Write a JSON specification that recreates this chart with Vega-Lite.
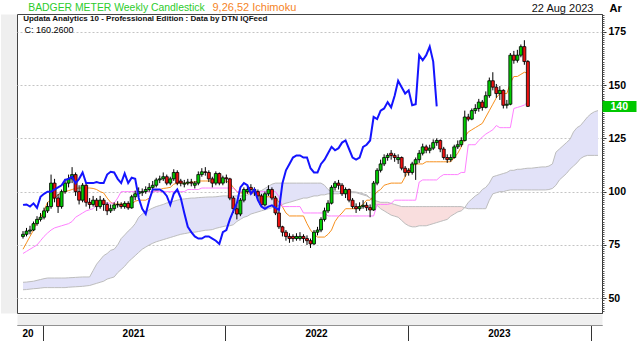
{
  "$schema": "https://vega.github.io/schema/vega-lite/v6.json",
  "width": 585,
  "height": 299,
  "autosize": {"type": "none"},
  "padding": {"left": 17, "top": 14, "right": 38, "bottom": 28},
  "background": "#ffffff",
  "config": {
    "font": "Liberation Sans",
    "view": {"stroke": "#444444", "strokeWidth": 1},
    "axis": {"labelFont": "Liberation Sans", "titleFont": "Liberation Sans"}
  },
  "datasets": {
    "w": [
      {"d":"2020-11-23","o":79,"h":81.5,"l":78,"c":80,"t":73,"k":71,"a":57.5,"b":54},
      {"d":"2020-11-30","o":80,"h":83,"l":79,"c":81.5,"t":76,"k":72,"a":57.6,"b":54.1},
      {"d":"2020-12-07","o":81.5,"h":84,"l":80,"c":82,"t":79,"k":73,"a":57.8,"b":54.3},
      {"d":"2020-12-14","o":82,"h":86,"l":81.5,"c":85,"t":82,"k":74,"a":58,"b":54.5},
      {"d":"2020-12-21","o":85,"h":88.5,"l":84,"c":87,"t":86,"k":75,"a":58.4,"b":54.6},
      {"d":"2020-12-28","o":87,"h":90,"l":86,"c":88,"t":88,"k":77,"a":58.8,"b":54.8},
      {"d":"2021-01-04","o":88,"h":92.5,"l":87,"c":91,"t":91,"k":79,"a":59.2,"b":55},
      {"d":"2021-01-11","o":91,"h":95,"l":90,"c":93,"t":95,"k":80.6,"a":59.5,"b":55},
      {"d":"2021-01-18","o":93,"h":108,"l":92,"c":104,"t":96,"k":82,"a":59.5,"b":55},
      {"d":"2021-01-25","o":104,"h":106,"l":95,"c":97,"t":97,"k":83,"a":59.5,"b":55},
      {"d":"2021-02-01","o":97,"h":99,"l":90,"c":93,"t":98.5,"k":83.5,"a":59.5,"b":55},
      {"d":"2021-02-08","o":93,"h":101,"l":92,"c":100,"t":99.5,"k":84,"a":59.5,"b":55},
      {"d":"2021-02-15","o":100,"h":106,"l":99,"c":104,"t":100,"k":84.5,"a":59.5,"b":55},
      {"d":"2021-02-22","o":104,"h":108,"l":102,"c":106,"t":100.5,"k":85,"a":59.6,"b":55.2},
      {"d":"2021-03-01","o":106,"h":111.5,"l":104,"c":108,"t":101,"k":86,"a":59.7,"b":55.3},
      {"d":"2021-03-08","o":108,"h":109,"l":98,"c":100,"t":101.5,"k":88,"a":59.8,"b":55.4},
      {"d":"2021-03-15","o":100,"h":103,"l":94,"c":96,"t":101.7,"k":89,"a":59.9,"b":55.5},
      {"d":"2021-03-22","o":96,"h":104,"l":95,"c":103,"t":101.7,"k":90,"a":60,"b":55.6},
      {"d":"2021-03-29","o":103,"h":104,"l":93,"c":95,"t":101.7,"k":91,"a":60,"b":55.8},
      {"d":"2021-04-05","o":95,"h":97,"l":92,"c":94,"t":101.7,"k":91.5,"a":60,"b":56},
      {"d":"2021-04-12","o":94,"h":98,"l":93,"c":96,"t":101.5,"k":92,"a":63,"b":56.5},
      {"d":"2021-04-19","o":96,"h":97,"l":91,"c":93,"t":101,"k":94,"a":66,"b":57},
      {"d":"2021-04-26","o":93,"h":98,"l":92,"c":96,"t":100,"k":94.6,"a":68,"b":57.5},
      {"d":"2021-05-03","o":96,"h":97,"l":91,"c":94,"t":99.4,"k":94.6,"a":70,"b":58},
      {"d":"2021-05-10","o":94,"h":95,"l":89,"c":91,"t":97,"k":94.6,"a":71,"b":59},
      {"d":"2021-05-17","o":91,"h":94,"l":90,"c":92,"t":95,"k":94.6,"a":72.5,"b":59.5},
      {"d":"2021-05-24","o":92,"h":95,"l":91,"c":93.8,"t":94.2,"k":94.6,"a":73,"b":60},
      {"d":"2021-05-31","o":93.8,"h":95.5,"l":92.5,"c":94,"t":94.2,"k":97,"a":75,"b":62},
      {"d":"2021-06-07","o":94,"h":95,"l":92,"c":93,"t":94.2,"k":100,"a":78,"b":63.5},
      {"d":"2021-06-14","o":93,"h":95.5,"l":92,"c":94.5,"t":94.2,"k":100,"a":79.7,"b":65},
      {"d":"2021-06-21","o":94.5,"h":95.5,"l":91.5,"c":92.4,"t":94.2,"k":100,"a":81.5,"b":67},
      {"d":"2021-06-28","o":92.4,"h":98.5,"l":92,"c":97.6,"t":94.2,"k":100,"a":83,"b":68.5},
      {"d":"2021-07-05","o":97.6,"h":100.5,"l":96,"c":99,"t":95.5,"k":100,"a":85,"b":70},
      {"d":"2021-07-12","o":99,"h":102,"l":97.5,"c":100,"t":96,"k":100,"a":88,"b":71.5},
      {"d":"2021-07-19","o":99.5,"h":101.5,"l":98,"c":100,"t":96,"k":100,"a":89.5,"b":73},
      {"d":"2021-07-26","o":100,"h":102.5,"l":99,"c":101,"t":96,"k":100,"a":90.5,"b":74},
      {"d":"2021-08-02","o":101,"h":104,"l":100,"c":102,"t":97,"k":100,"a":91.5,"b":75},
      {"d":"2021-08-09","o":102,"h":105,"l":101,"c":103,"t":100,"k":100,"a":92.3,"b":75.8},
      {"d":"2021-08-16","o":103,"h":106.5,"l":102,"c":105.5,"t":100.5,"k":100,"a":93,"b":76.5},
      {"d":"2021-08-23","o":105.5,"h":107.5,"l":104,"c":106,"t":101,"k":100,"a":93.5,"b":77},
      {"d":"2021-08-30","o":106,"h":109,"l":105,"c":107,"t":101.5,"k":100,"a":94,"b":77.5},
      {"d":"2021-09-06","o":107,"h":108,"l":103,"c":104,"t":101.7,"k":100,"a":94.7,"b":78},
      {"d":"2021-09-13","o":104,"h":107,"l":103,"c":106,"t":102,"k":100,"a":95,"b":78.5},
      {"d":"2021-09-20","o":106,"h":110.5,"l":105,"c":109,"t":103.5,"k":100,"a":95.5,"b":79},
      {"d":"2021-09-27","o":109,"h":110,"l":103,"c":104,"t":104,"k":100,"a":96,"b":79.5},
      {"d":"2021-10-04","o":105,"h":106,"l":102.5,"c":104,"t":104,"k":100,"a":96.4,"b":80},
      {"d":"2021-10-11","o":103.5,"h":105.5,"l":102,"c":104,"t":104,"k":100,"a":96.6,"b":80.3},
      {"d":"2021-10-18","o":104,"h":106,"l":103,"c":104.5,"t":104,"k":101,"a":96.8,"b":80.6},
      {"d":"2021-10-25","o":104.5,"h":106,"l":102.5,"c":104,"t":104.5,"k":101,"a":97,"b":81},
      {"d":"2021-11-01","o":103,"h":105,"l":101.5,"c":104,"t":104.5,"k":101,"a":97,"b":81},
      {"d":"2021-11-08","o":104,"h":109.5,"l":103,"c":108,"t":105,"k":101,"a":97.2,"b":81.3},
      {"d":"2021-11-15","o":108,"h":111,"l":107,"c":109.3,"t":105,"k":101.7,"a":97.3,"b":81.6},
      {"d":"2021-11-22","o":109.3,"h":111.5,"l":107.5,"c":109,"t":105,"k":101.7,"a":97.4,"b":81.9},
      {"d":"2021-11-29","o":109,"h":110,"l":104.5,"c":106,"t":105,"k":101.7,"a":97.5,"b":82},
      {"d":"2021-12-06","o":106,"h":107,"l":102,"c":104,"t":105,"k":101.7,"a":97.5,"b":82.2},
      {"d":"2021-12-13","o":104,"h":109.5,"l":103,"c":108.5,"t":105,"k":101.7,"a":97.6,"b":82.8},
      {"d":"2021-12-20","o":108.5,"h":109,"l":103,"c":104,"t":105,"k":101.7,"a":97.8,"b":83.2},
      {"d":"2021-12-27","o":104,"h":107.5,"l":103,"c":106.5,"t":105,"k":101.7,"a":98,"b":83.6},
      {"d":"2022-01-03","o":106.5,"h":108,"l":104,"c":106,"t":105,"k":101.7,"a":98,"b":84},
      {"d":"2022-01-10","o":106,"h":106.5,"l":96,"c":97,"t":104,"k":101.7,"a":98,"b":84},
      {"d":"2022-01-17","o":97,"h":98,"l":90,"c":92,"t":102,"k":101.7,"a":98,"b":84.5},
      {"d":"2022-01-24","o":92,"h":94,"l":87,"c":89.5,"t":100,"k":100,"a":98,"b":86},
      {"d":"2022-01-31","o":89.5,"h":97,"l":88.5,"c":96,"t":99.4,"k":100,"a":98,"b":87},
      {"d":"2022-02-07","o":96,"h":102,"l":95,"c":101,"t":99.4,"k":100,"a":98,"b":88},
      {"d":"2022-02-14","o":100,"h":103,"l":99,"c":101,"t":99.4,"k":100,"a":98.5,"b":88.5},
      {"d":"2022-02-21","o":102,"h":103.5,"l":99.5,"c":101,"t":99.4,"k":100,"a":99,"b":89.5},
      {"d":"2022-02-28","o":101,"h":102,"l":98,"c":100,"t":99.4,"k":100,"a":99.5,"b":90},
      {"d":"2022-03-07","o":100,"h":101,"l":96,"c":98,"t":99,"k":100,"a":100,"b":90.5},
      {"d":"2022-03-14","o":98,"h":99,"l":93,"c":93.8,"t":97.6,"k":100,"a":100.5,"b":91},
      {"d":"2022-03-21","o":93.8,"h":100,"l":93,"c":99,"t":97.6,"k":100,"a":101.5,"b":91.5},
      {"d":"2022-03-28","o":99,"h":103,"l":98,"c":101,"t":97.6,"k":100,"a":102.5,"b":92},
      {"d":"2022-04-04","o":101,"h":102,"l":96,"c":97,"t":97.6,"k":100,"a":103.5,"b":92.5},
      {"d":"2022-04-11","o":97,"h":98,"l":89,"c":90,"t":97.6,"k":100,"a":104,"b":93},
      {"d":"2022-04-18","o":90,"h":91,"l":82.5,"c":83.5,"t":95,"k":97.6,"a":104,"b":93.5},
      {"d":"2022-04-25","o":83.5,"h":84,"l":79,"c":81,"t":92.9,"k":93,"a":104,"b":94},
      {"d":"2022-05-02","o":81,"h":82,"l":77,"c":79,"t":90,"k":93,"a":104,"b":94.6},
      {"d":"2022-05-09","o":79,"h":80.5,"l":76,"c":78,"t":88.6,"k":93,"a":104,"b":95},
      {"d":"2022-05-16","o":79,"h":80,"l":76.5,"c":78,"t":88.6,"k":93,"a":104,"b":95.5},
      {"d":"2022-05-23","o":78,"h":80.5,"l":77,"c":79,"t":88.6,"k":93,"a":104,"b":96},
      {"d":"2022-05-30","o":78,"h":81,"l":77,"c":79,"t":88.6,"k":93,"a":104,"b":96.5},
      {"d":"2022-06-06","o":79,"h":80,"l":76,"c":78,"t":88.6,"k":90,"a":104,"b":97},
      {"d":"2022-06-13","o":78,"h":79.5,"l":75,"c":77,"t":85,"k":90,"a":104,"b":97},
      {"d":"2022-06-20","o":77,"h":78,"l":73.6,"c":75.5,"t":82,"k":90,"a":104,"b":97.5},
      {"d":"2022-06-27","o":75.5,"h":82,"l":75,"c":81,"t":80,"k":90,"a":104,"b":98},
      {"d":"2022-07-04","o":81,"h":83.5,"l":79.5,"c":82,"t":78.7,"k":90,"a":104,"b":98},
      {"d":"2022-07-11","o":82,"h":88,"l":81,"c":87,"t":78.7,"k":90,"a":104,"b":98.5},
      {"d":"2022-07-18","o":87,"h":92.5,"l":86,"c":91,"t":78.7,"k":90,"a":103,"b":98.5},
      {"d":"2022-07-25","o":91,"h":96,"l":90,"c":94.6,"t":80,"k":88.6,"a":101,"b":99},
      {"d":"2022-08-01","o":94.6,"h":103,"l":94,"c":102,"t":82,"k":88.6,"a":100,"b":99},
      {"d":"2022-08-08","o":102,"h":105,"l":100.5,"c":104,"t":86,"k":88.6,"a":100,"b":99},
      {"d":"2022-08-15","o":104,"h":105.5,"l":101,"c":103,"t":88.4,"k":88.6,"a":100,"b":99},
      {"d":"2022-08-22","o":103,"h":104,"l":98,"c":99,"t":90,"k":88.6,"a":100,"b":99.5},
      {"d":"2022-08-29","o":99,"h":102,"l":97,"c":101,"t":92,"k":88.6,"a":100,"b":99.5},
      {"d":"2022-09-05","o":101,"h":101.5,"l":95,"c":96,"t":92,"k":88.6,"a":100,"b":99.5},
      {"d":"2022-09-12","o":96,"h":97,"l":92,"c":93,"t":92,"k":88.6,"a":100,"b":99.5},
      {"d":"2022-09-19","o":93,"h":94.5,"l":90,"c":92,"t":92,"k":88.6,"a":99.8,"b":99.5},
      {"d":"2022-09-26","o":92,"h":95,"l":91,"c":93,"t":93,"k":88.6,"a":99.5,"b":99},
      {"d":"2022-10-03","o":93,"h":96,"l":92,"c":93.6,"t":94,"k":88.6,"a":99,"b":98.5},
      {"d":"2022-10-10","o":93.6,"h":95,"l":91,"c":92.5,"t":96,"k":88.6,"a":98.5,"b":98},
      {"d":"2022-10-17","o":92.5,"h":94,"l":88,"c":91.4,"t":96,"k":88.6,"a":97,"b":97},
      {"d":"2022-10-24","o":91.4,"h":105,"l":91,"c":104,"t":98,"k":88.6,"a":95,"b":96},
      {"d":"2022-10-31","o":104,"h":111,"l":103,"c":110,"t":100,"k":94,"a":93.5,"b":95.5},
      {"d":"2022-11-07","o":110,"h":115,"l":109,"c":113,"t":101,"k":94,"a":92,"b":95},
      {"d":"2022-11-14","o":113,"h":117.5,"l":112,"c":116,"t":103,"k":94,"a":91,"b":95},
      {"d":"2022-11-21","o":116,"h":118,"l":114.5,"c":117,"t":103.5,"k":94,"a":90,"b":95},
      {"d":"2022-11-28","o":118,"h":119.5,"l":115,"c":117,"t":104,"k":94.5,"a":89,"b":94.5},
      {"d":"2022-12-05","o":117,"h":118,"l":114,"c":116,"t":104,"k":96,"a":88.5,"b":94},
      {"d":"2022-12-12","o":115,"h":117.5,"l":113,"c":116,"t":104,"k":96,"a":88,"b":93.5},
      {"d":"2022-12-19","o":116,"h":116.5,"l":110,"c":111,"t":104,"k":96,"a":86.5,"b":93},
      {"d":"2022-12-26","o":111,"h":112,"l":107,"c":109,"t":107,"k":96,"a":85,"b":93},
      {"d":"2023-01-02","o":110,"h":111,"l":107.5,"c":109,"t":110,"k":96,"a":84,"b":93},
      {"d":"2023-01-09","o":109,"h":114,"l":108,"c":113,"t":112,"k":96,"a":83.5,"b":93},
      {"d":"2023-01-16","o":113,"h":116,"l":105.5,"c":115,"t":113,"k":96,"a":83.5,"b":93},
      {"d":"2023-01-23","o":115,"h":119.5,"l":113.5,"c":118,"t":113,"k":104.5,"a":84,"b":93},
      {"d":"2023-01-30","o":118,"h":122.5,"l":117,"c":121,"t":113,"k":105.5,"a":84,"b":93},
      {"d":"2023-02-06","o":121,"h":122,"l":118,"c":119.4,"t":114,"k":105.5,"a":84,"b":93},
      {"d":"2023-02-13","o":119.4,"h":122,"l":118,"c":120.4,"t":114,"k":105.5,"a":84.5,"b":93},
      {"d":"2023-02-20","o":120.4,"h":124.5,"l":119.5,"c":123,"t":114,"k":105.5,"a":85,"b":93},
      {"d":"2023-02-27","o":123,"h":125,"l":121.5,"c":124,"t":114,"k":105.5,"a":85.5,"b":93},
      {"d":"2023-03-06","o":124,"h":124.5,"l":118.5,"c":120,"t":114,"k":107,"a":86,"b":93},
      {"d":"2023-03-13","o":120,"h":121,"l":115,"c":116,"t":114,"k":108,"a":86.5,"b":93},
      {"d":"2023-03-20","o":116,"h":117.5,"l":113.5,"c":115,"t":114,"k":108,"a":87,"b":93},
      {"d":"2023-03-27","o":115,"h":117.5,"l":114,"c":116,"t":114,"k":108,"a":88.5,"b":93},
      {"d":"2023-04-03","o":116,"h":122,"l":115.5,"c":121,"t":116,"k":108,"a":89.5,"b":93},
      {"d":"2023-04-10","o":121,"h":124,"l":120,"c":122,"t":118,"k":108,"a":90.5,"b":93},
      {"d":"2023-04-17","o":122,"h":125.5,"l":121,"c":124,"t":121,"k":109,"a":91,"b":93},
      {"d":"2023-04-24","o":124,"h":138,"l":123.5,"c":135,"t":125.6,"k":109,"a":92.5,"b":92.5},
      {"d":"2023-05-01","o":135,"h":136.5,"l":133,"c":134,"t":128,"k":122,"a":95,"b":92},
      {"d":"2023-05-08","o":134,"h":139,"l":133.5,"c":138,"t":129,"k":122,"a":96.5,"b":92},
      {"d":"2023-05-15","o":138,"h":141,"l":136.5,"c":139,"t":130,"k":122,"a":98,"b":92},
      {"d":"2023-05-22","o":139,"h":143.5,"l":137.5,"c":142,"t":131,"k":124,"a":99,"b":92},
      {"d":"2023-05-29","o":142,"h":143,"l":138,"c":139.5,"t":132,"k":125.6,"a":101,"b":92},
      {"d":"2023-06-05","o":139.5,"h":147,"l":139,"c":145,"t":135,"k":127,"a":102,"b":92},
      {"d":"2023-06-12","o":145,"h":153.5,"l":144,"c":152,"t":138,"k":128,"a":104,"b":96},
      {"d":"2023-06-19","o":152,"h":156,"l":147.5,"c":149,"t":141,"k":129,"a":107,"b":99},
      {"d":"2023-06-26","o":149,"h":150.5,"l":144,"c":146,"t":144,"k":131,"a":107.5,"b":99.5},
      {"d":"2023-07-03","o":146,"h":149.5,"l":143,"c":147.5,"t":146,"k":130,"a":108,"b":100},
      {"d":"2023-07-10","o":147.5,"h":148,"l":139,"c":140.5,"t":146,"k":130,"a":108.5,"b":100},
      {"d":"2023-07-17","o":140.5,"h":143,"l":139,"c":141,"t":146,"k":130,"a":109,"b":100.5},
      {"d":"2023-07-24","o":141,"h":165,"l":140.5,"c":164,"t":151,"k":130,"a":110,"b":100.8},
      {"d":"2023-07-31","o":164,"h":166,"l":160,"c":161.6,"t":154,"k":139,"a":110,"b":100.8},
      {"d":"2023-08-07","o":161.6,"h":166.5,"l":160.5,"c":164,"t":154,"k":139.5,"a":110.5,"b":100.8},
      {"d":"2023-08-14","o":164,"h":169,"l":163,"c":168,"t":155,"k":140,"a":110.5,"b":100.8},
      {"d":"2023-08-21","o":168,"h":171,"l":159.5,"c":161,"t":156,"k":140.6,"a":110.8,"b":100.8},
      {"d":"2023-08-28","o":161,"h":161.7,"l":139.7,"c":140,"t":155.5,"k":142,"a":111,"b":100.8},
      {"d":"2023-09-04","a":111,"b":100.8},
      {"d":"2023-09-11","a":111.2,"b":100.8},
      {"d":"2023-09-18","a":111.4,"b":100.8},
      {"d":"2023-09-25","a":111.6,"b":100.8},
      {"d":"2023-10-02","a":111.6,"b":100.8},
      {"d":"2023-10-09","a":112,"b":101},
      {"d":"2023-10-16","a":113,"b":101.5},
      {"d":"2023-10-23","a":118.5,"b":103},
      {"d":"2023-10-30","a":120,"b":105.5},
      {"d":"2023-11-06","a":121.5,"b":107},
      {"d":"2023-11-13","a":123,"b":108.5},
      {"d":"2023-11-20","a":124.5,"b":110.5},
      {"d":"2023-11-27","a":128,"b":112},
      {"d":"2023-12-04","a":130,"b":113.5},
      {"d":"2023-12-11","a":131,"b":115.5},
      {"d":"2023-12-18","a":133,"b":116.5},
      {"d":"2023-12-25","a":135,"b":117},
      {"d":"2024-01-01","a":136.5,"b":117},
      {"d":"2024-01-08","a":137.5,"b":117},
      {"d":"2024-01-15","a":138,"b":117}
    ]
  },
  "data": {"name": "w"},
  "layer": [
    {
      "transform": [{"filter": "datum.a >= datum.b"}],
      "mark": {"type": "area", "color": "#e2e2f8", "clip": true},
      "encoding": {
        "x": {"field": "d", "type": "temporal",
          "scale": {"type": "utc", "domain": [{"year": 2020, "month": 11, "date": 21, "utc": true}, {"year": 2024, "month": 1, "date": 13, "utc": true}]},
          "axis": {
            "orient": "bottom",
            "values": [{"year": 2020, "month": 12, "date": 2, "utc": true}, {"year": 2021, "month": 7, "date": 1, "utc": true}, {"year": 2022, "month": 7, "date": 1, "utc": true}, {"year": 2023, "month": 7, "date": 1, "utc": true}],
            "labelExpr": "utcyear(datum.value) == 2020 ? '20' : utcFormat(datum.value, '%Y')",
            "domain": false, "ticks": false, "tickSize": 0, "grid": false, "offset": 12, "labelPadding": 3,
            "labelFontSize": 10, "labelFontWeight": "bold", "labelColor": "#000000", "labelAlign": "center",
            "labelFlush": false, "labelOverlap": false, "title": null
          }
        },
        "y": {"field": "a", "type": "quantitative",
          "scale": {"domain": [43.1, 183.3], "zero": false, "nice": false},
          "axis": {
            "orient": "right", "values": [50, 75, 100, 125, 150, 175],
            "grid": true, "gridColor": "#c4c4c4", "gridDash": [2, 2],
            "domain": true, "domainColor": "#333333", "ticks": true, "tickSize": 4, "tickColor": "#333333",
            "labelFontSize": 10.5, "labelFontWeight": "bold", "labelColor": "#000000", "labelPadding": 2,
            "title": "Ar", "titleAngle": 0, "titleAlign": "left", "titleBaseline": "alphabetic",
            "titleX": 7, "titleY": -3, "titleFontSize": 11, "titleFontWeight": "bold", "titleColor": "#000000"
          }
        },
        "y2": {"field": "b"}
      }
    },
    {
      "transform": [{"filter": "datum.a <= datum.b"}],
      "mark": {"type": "area", "color": "#f9dede", "clip": true},
      "encoding": {
        "x": {"field": "d", "type": "temporal",
          "scale": {"type": "utc", "domain": [{"year": 2020, "month": 11, "date": 21, "utc": true}, {"year": 2024, "month": 1, "date": 13, "utc": true}]},
          "axis": {
            "orient": "bottom",
            "values": [{"year": 2021, "month": 1, "date": 1, "utc": true}, {"year": 2022, "month": 1, "date": 1, "utc": true}, {"year": 2023, "month": 1, "date": 1, "utc": true}, {"year": 2024, "month": 1, "date": 1, "utc": true}],
            "labels": false, "ticks": true, "tickSize": 16, "tickColor": "#333333", "tickWidth": 1,
            "domain": true, "domainColor": "#333333", "grid": false, "offset": 12, "title": null
          }
        },
        "y": {"field": "a", "type": "quantitative",
          "scale": {"domain": [43.1, 183.3], "zero": false, "nice": false},
          "axis": {
            "orient": "right", "tickCount": 140, "labels": false, "ticks": true, "tickSize": 2, "tickColor": "#555555",
            "domain": false, "grid": false,
            "title": "22 Aug 2023", "titleAngle": 0, "titleAlign": "right", "titleBaseline": "alphabetic",
            "titleX": -9, "titleY": -3, "titleFontSize": 11, "titleFontWeight": "normal", "titleColor": "#111111"
          }
        },
        "y2": {"field": "b"}
      }
    },
    {
      "mark": {"type": "line", "color": "#bdbdbd", "strokeWidth": 1, "clip": true},
      "encoding": {
        "x": {"field": "d", "type": "temporal",
          "scale": {"type": "utc", "domain": [{"year": 2020, "month": 11, "date": 21, "utc": true}, {"year": 2024, "month": 1, "date": 13, "utc": true}]},
          "axis": {
            "orient": "bottom",
            "domain": true, "domainColor": "#efefef", "domainWidth": 11, "offset": 6.5,
            "ticks": false, "labels": false, "grid": false,
            "title": "9,26,52 Ichimoku", "titleColor": "#f5841f", "titleFontSize": 11, "titleFontWeight": "normal",
            "titleAlign": "left", "titleBaseline": "alphabetic", "titleAngle": 0, "titleX": 195, "titleY": -309.5
          }
        },
        "y": {"field": "a", "type": "quantitative",
          "scale": {"domain": [43.1, 183.3], "zero": false, "nice": false},
          "axis": {
            "orient": "right", "values": [140], "labels": true, "labelColor": "#ffffff", "labelFontWeight": "bold",
            "labelFontSize": 10.5, "labelPadding": -26, "labelAlign": "left",
            "ticks": true, "tickSize": 34, "tickWidth": 11, "tickColor": "#00c800",
            "domain": false, "grid": false, "title": null
          }
        }
      }
    },
    {
      "mark": {"type": "line", "color": "#bdbdbd", "strokeWidth": 1, "clip": true},
      "encoding": {
        "x": {"field": "d", "type": "temporal", "axis": null},
        "y": {"field": "b", "type": "quantitative",
          "axis": {
            "orient": "left", "domain": true, "domainColor": "#efefef", "domainWidth": 16, "offset": 8.5,
            "ticks": false, "labels": false, "grid": false,
            "title": "C: 160.2600", "titleAngle": 0, "titleAlign": "left", "titleBaseline": "alphabetic",
            "titleX": 15.5, "titleY": 18.7, "titleFontSize": 9, "titleFontWeight": "normal", "titleColor": "#000000"
          }
        }
      }
    },
    {
      "transform": [{"filter": "isValid(datum.t)"}],
      "mark": {"type": "line", "color": "#f7901e", "strokeWidth": 1},
      "encoding": {
        "x": {"field": "d", "type": "temporal",
          "axis": {
            "orient": "top", "offset": 0, "domain": false, "ticks": false, "labels": false, "grid": false,
            "title": "BADGER METER Weekly Candlestick", "titleColor": "#2ccc2c", "titleFontSize": 10.4, "titleFontWeight": "normal",
            "titleAlign": "left", "titleBaseline": "alphabetic", "titleAngle": 0, "titleX": 10.7, "titleY": -4
          }
        },
        "y": {"field": "t", "type": "quantitative", "axis": null}
      }
    },
    {
      "transform": [{"filter": "isValid(datum.k)"}],
      "mark": {"type": "line", "color": "#ff80ff", "strokeWidth": 1},
      "encoding": {
        "x": {"field": "d", "type": "temporal",
          "axis": {
            "orient": "top", "offset": 0, "domain": false, "ticks": false, "labels": false, "grid": false,
            "title": "Updata Analytics 10 - Professional Edition : Data by DTN IQFeed", "titleColor": "#111111", "titleFontSize": 8, "titleFontWeight": "bold",
            "titleAlign": "left", "titleBaseline": "alphabetic", "titleAngle": 0, "titleX": 5.7, "titleY": 6.5
          }
        },
        "y": {"field": "k", "type": "quantitative", "axis": null}
      }
    },
    {
      "transform": [{"filter": "isValid(datum.o)"}],
      "mark": {"type": "rule", "color": "#000000", "strokeWidth": 1},
      "encoding": {
        "x": {"field": "d", "type": "temporal", "axis": null},
        "y": {"field": "l", "type": "quantitative", "axis": null},
        "y2": {"field": "h"}
      }
    },
    {
      "transform": [{"filter": "isValid(datum.o)"}],
      "mark": {"type": "bar", "width": 3, "stroke": "#000000", "strokeWidth": 0.8},
      "encoding": {
        "x": {"field": "d", "type": "temporal", "axis": null},
        "y": {"field": "o", "type": "quantitative", "axis": null},
        "y2": {"field": "c"},
        "fill": {"condition": {"test": "datum.c >= datum.o", "value": "#00cc00"}, "value": "#ee1111"}
      }
    },
    {
      "transform": [
        {"filter": "isValid(datum.c)"},
        {"window": [{"op": "lead", "field": "c", "param": 26, "as": "ch"}], "sort": [{"field": "d", "order": "ascending"}]},
        {"filter": "isValid(datum.ch)"}
      ],
      "mark": {"type": "line", "color": "#1414ff", "strokeWidth": 2},
      "encoding": {
        "x": {"field": "d", "type": "temporal", "axis": null},
        "y": {"field": "ch", "type": "quantitative", "axis": null}
      }
    }
  ],
  "resolve": {"scale": {"x": "shared", "y": "shared"}, "axis": {"x": "independent", "y": "independent"}}
}
